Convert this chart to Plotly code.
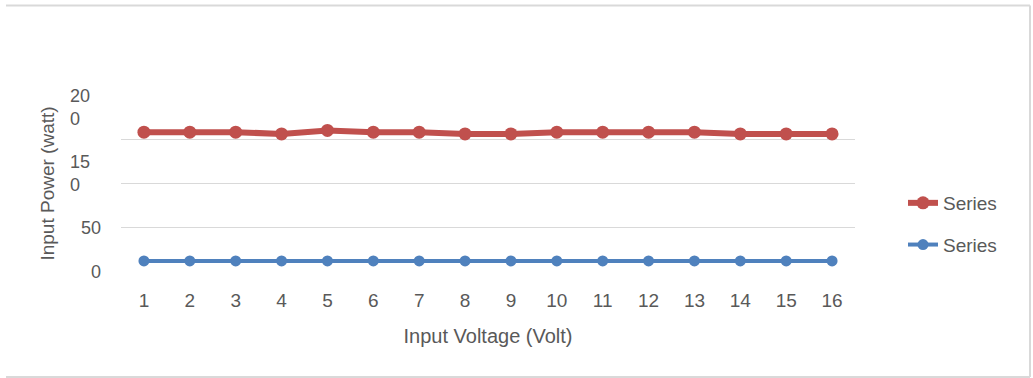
import plotly.graph_objects as go

# Input voltage steps (category axis)
voltage = list(range(1, 17))

# Input power readings for the two series (watt)
red_power = [158, 158, 158, 156, 160, 158, 158, 156, 156, 158, 158, 158, 158, 156, 156, 156]
blue_power = [12.5, 12.5, 12.5, 12.5, 12.5, 12.5, 12.5, 12.5, 12.5, 12.5, 12.5, 12.5, 12.5, 12.5, 12.5, 12.5]

series_names = ["Series", "Series"]

# Y-axis labels as they are printed (wrapped numbers)
y_label_values = [0, 50, 150, 200]
y_label_text = ["0", "50", "15<br>0", "20<br>0"]

W, H = 1033, 378
PL, PR, PT, PB = 121, 855, 95, 272  # plot area in pixels

FONT = "Liberation Sans, Arial, sans-serif"
GREY_TXT = "#595959"
GRID = "#d9d9d9"
RED = "#c0504d"
BLUE = "#4f81bd"


def px_x(px):
    return (px - PL) / (PR - PL)


def px_y(py):
    return (PB - py) / (PB - PT)


fig = go.Figure()
fig.add_trace(go.Scatter(
    x=voltage, y=red_power, name=series_names[0], mode="lines+markers",
    line=dict(color=RED, width=6), marker=dict(color=RED, size=13),
    legendgroup="a",
))
fig.add_trace(go.Scatter(
    x=voltage, y=blue_power, name=series_names[1], mode="lines+markers",
    line=dict(color=BLUE, width=4), marker=dict(color=BLUE, size=11),
    legendgroup="b",
))

annotations = []
for v, t in zip(y_label_values, y_label_text):
    wrapped = "<br>" in t
    annotations.append(dict(
        x=px_x(68) if wrapped else px_x(103),
        xref="paper", y=v, yref="y",
        xanchor="left" if wrapped else "right",
        yanchor="middle", align="left",
        yshift={150: -34, 200: -12}.get(v, 0),
        text=t, showarrow=False,
        font=dict(family=FONT, size=18, color=GREY_TXT),
    ))

# chart frame (top, right and bottom edges)
frame = dict(type="line", xref="paper", yref="paper",
             line=dict(color=GRID, width=2))
shapes = [
    dict(frame, x0=px_x(6), x1=px_x(1030), y0=px_y(5.5), y1=px_y(5.5)),
    dict(frame, x0=px_x(1030), x1=px_x(1030), y0=px_y(5.5), y1=px_y(377)),
    dict(frame, x0=px_x(6), x1=px_x(1030), y0=px_y(377), y1=px_y(377)),
]

fig.update_layout(
    width=W, height=H,
    margin=dict(l=PL, r=W - PR, t=PT, b=H - PB, autoexpand=False),
    paper_bgcolor="white", plot_bgcolor="white",
    font=dict(family=FONT, size=18, color=GREY_TXT),
    showlegend=True,
    legend=dict(
        x=px_x(903), y=px_y(184), xanchor="left", yanchor="top",
        xref="paper", yref="paper",
        font=dict(family=FONT, size=19, color=GREY_TXT),
        tracegroupgap=14, bgcolor="rgba(0,0,0,0)",
    ),
    xaxis=dict(
        range=[0.5, 16.5], tickmode="array", tickvals=voltage,
        ticktext=[str(v) for v in voltage],
        showgrid=False, zeroline=False, showline=False,
        ticks="outside", ticklen=11, tickcolor="rgba(0,0,0,0)",
        tickfont=dict(family=FONT, size=19, color=GREY_TXT),
        title=dict(text="Input Voltage (Volt)", standoff=19,
                   font=dict(family=FONT, size=20, color=GREY_TXT)),
    ),
    yaxis=dict(
        range=[0, 200], dtick=50, tick0=0,
        showgrid=True, gridcolor=GRID, gridwidth=1,
        zeroline=False, showline=False, showticklabels=False,
        title=dict(text="Input Power (watt)", standoff=60,
                   font=dict(family=FONT, size=19, color=GREY_TXT)),
    ),
    annotations=annotations,
    shapes=shapes,
)

fig.write_html("out.html")
